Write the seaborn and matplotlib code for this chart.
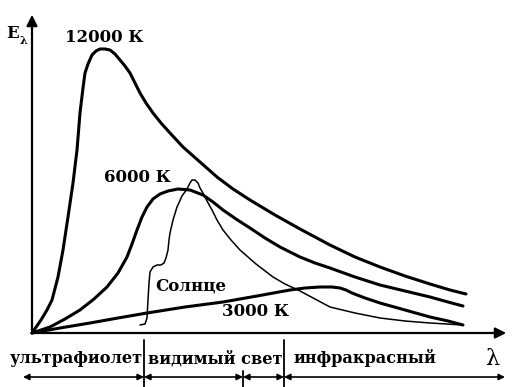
import pandas as pd
import matplotlib
matplotlib.use('Agg')
import matplotlib.pyplot as plt
import seaborn as sns

# spectral curves (lambda, E_lambda in arbitrary units)
lam_12000 = [0, 9, 15, 20, 26, 31, 36, 41, 45, 48, 51, 53, 56, 60, 64, 68, 73, 78, 83, 88, 93,
             98, 103, 108, 114, 121, 129, 138, 151, 168, 185, 201, 218, 243, 268, 298, 323, 348, 373,
             398, 418, 434]
e_12000 = [0, 13, 23, 33, 56, 83, 116, 150, 183, 220, 245, 260, 269, 278, 282, 284, 284, 283, 279,
           273, 267, 260, 250, 240, 230, 220, 210, 200, 186, 171, 156, 144, 133, 118, 104, 88, 76, 66, 57,
           49, 43, 39]

lam_6000 = [0, 9, 18, 33, 48, 62, 75, 86, 95, 100, 105, 110, 115, 121, 128, 136, 146, 158, 171, 181, 191,
            204, 218, 233, 248, 268, 283, 298, 323, 348, 373, 398, 416, 431]
e_6000 = [0, 3, 6, 14, 23, 34, 46, 60, 76, 89, 103, 116, 126, 134, 139, 142, 144, 143, 138, 131, 123,
          114, 105, 95, 86, 76, 70, 65, 56, 48, 42, 36, 31, 27]

lam_3000 = [0, 28, 58, 86, 115, 153, 191, 225, 258, 273, 288, 300, 308, 314, 320, 333, 348, 373, 398, 416, 431]
e_3000 = [0, 5, 10, 15, 20, 26, 31, 37, 43, 45, 46, 46, 45, 43, 40, 35, 30, 23, 16, 12, 8]

lam_sun = [108, 113, 115, 116, 117, 118, 121, 125, 129, 132, 134, 136, 137, 138, 141, 145, 150, 155,
           158, 160, 163, 166, 168, 171, 175, 180, 185, 191, 199, 208, 224, 241, 253, 268, 283, 298, 323,
           348, 373, 398, 431]
e_sun = [8, 9, 15, 33, 50, 61, 66, 68, 68, 70, 75, 83, 93, 100, 113, 126, 137, 144, 150, 153, 153, 150,
         145, 140, 132, 123, 113, 103, 93, 83, 69, 56, 49, 42, 34, 26, 20, 15, 12, 10, 8]

# spectrum band borders along the lambda axis
band_edges = [-9, 112, 211, 252, 473]
band_names = ['ультрафиолет', 'видимый свет', 'инфракрасный']
band_label_x = [44, 183, 333]

sns.set_style('white')
plt.rcParams['font.family'] = ['DejaVu Serif']

fig = plt.figure(figsize=(5.14, 3.87), dpi=100)
ax = fig.add_axes([0, 0, 1, 1])

curves = [(lam_12000, e_12000, 2.2), (lam_6000, e_6000, 2.2),
          (lam_3000, e_3000, 2.2), (lam_sun, e_sun, 1.1)]
for lam, e, lw in curves:
    df = pd.DataFrame({'lam': lam, 'E': e})
    sns.lineplot(data=df, x='lam', y='E', ax=ax, color='black', lw=lw,
                 sort=False, estimator=None,
                 solid_joinstyle='round', solid_capstyle='round')

ax.set_xlim(-32, 482)
ax.set_ylim(-54, 333)
ax.axis('off')

# axes with arrows
arrow = dict(arrowstyle='-|>', lw=1.6, color='black', mutation_scale=16)
ax.annotate('', xy=(0, 321), xytext=(0, -1), arrowprops=arrow)
ax.annotate('', xy=(477, 0), xytext=(-1, 0), arrowprops=arrow)

bold = dict(fontweight='bold', color='black')
ax.text(-19, 300, 'E', fontsize=12, ha='center', va='center', **bold)
ax.text(-9, 292, 'λ', fontsize=8, ha='center', va='center', **bold)
ax.text(460, -32, 'λ', fontsize=16, ha='center', va='baseline', color='black')

ax.text(72, 296, '12000 К', fontsize=12, ha='center', va='center', **bold)
ax.text(105, 155, '6000 К', fontsize=12, ha='center', va='center', **bold)
ax.text(159, 47, 'Солнце', fontsize=12, ha='center', va='center', **bold)
ax.text(224, 22, '3000 К', fontsize=12, ha='center', va='center', **bold)

for name, x in zip(band_names, band_label_x):
    ax.text(x, -30, name, fontsize=11.6, ha='center', va='baseline', **bold)

# band arrows and separators
small = dict(arrowstyle='<|-|>', lw=1.2, color='black', mutation_scale=9,
             shrinkA=0, shrinkB=0)
for a, b in zip(band_edges[:-1], band_edges[1:]):
    ax.annotate('', xy=(b, -44), xytext=(a, -44), arrowprops=small)
for x in [band_edges[1], band_edges[3]]:
    ax.plot([x, x], [-7, -54], color='black', lw=1.3)
ax.plot([band_edges[2], band_edges[2]], [-38, -54], color='black', lw=1.3)

fig.savefig('out.png', dpi=100)
